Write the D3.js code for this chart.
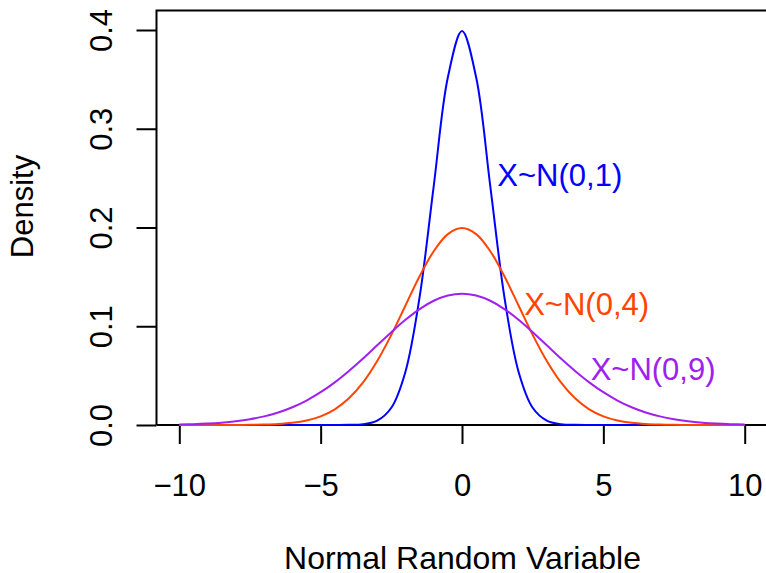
<!DOCTYPE html>
<html><head><meta charset="utf-8">
<script src="https://cdn.jsdelivr.net/npm/d3@7/dist/d3.min.js"></script>
<style>body{margin:0;background:#fff}svg{display:block}text{font-family:"Liberation Sans",Arial,Helvetica,sans-serif;}</style>
</head><body><svg id="c" width="766" height="573"></svg>
<script>
const xValues = [-10,-9.5,-9,-8.5,-8,-7.5,-7,-6.5,-6,-5.5,-5,-4.5,-4,-3.5,-3,-2.5,-2,-1.5,-1,-0.5,0,0.5,1,1.5,2,2.5,3,3.5,4,4.5,5,5.5,6,6.5,7,7.5,8,8.5,9,9.5,10];
const densN01 = [0,0,0,0,0,0,0,0,0,0,0.0000015,0.000016,0.000134,0.000873,0.00443,0.0175,0.0540,0.1295,0.2420,0.3521,0.3989,0.3521,0.2420,0.1295,0.0540,0.0175,0.00443,0.000873,0.000134,0.000016,0.0000015,0,0,0,0,0,0,0,0,0,0];
const densN04 = [0.000001,0.000003,0.000008,0.000024,0.0000669,0.000176,0.000436,0.00101,0.00222,0.00455,0.00876,0.0159,0.0270,0.0431,0.0648,0.0913,0.1210,0.1506,0.1760,0.1933,0.1995,0.1933,0.1760,0.1506,0.1210,0.0913,0.0648,0.0431,0.0270,0.0159,0.00876,0.00455,0.00222,0.00101,0.000436,0.000176,0.0000669,0.000024,0.000008,0.000003,0.000001];
const densN09 = [0.000514,0.000884,0.00148,0.00240,0.00380,0.00584,0.00874,0.0127,0.0180,0.0248,0.0332,0.0432,0.0547,0.0673,0.0807,0.0940,0.1065,0.1174,0.1258,0.1311,0.1330,0.1311,0.1258,0.1174,0.1065,0.0940,0.0807,0.0673,0.0547,0.0432,0.0332,0.0248,0.0180,0.0127,0.00874,0.00584,0.00380,0.00240,0.00148,0.000884,0.000514];
const seriesNames = ["X~N(0,1)","X~N(0,4)","X~N(0,9)"];
const seriesColors = ["#0000FF","#FF4500","#A020F0"];
const labelAnchors = [[1.25,0.242],[2.2,0.1114],[4.55,0.0456]];
const xTicks = [-10,-5,0,5,10];
const yTicks = [0.0,0.1,0.2,0.3,0.4];
const yTickLabels = ["0.0","0.1","0.2","0.3","0.4"];
const xLabel = "Normal Random Variable";
const yLabel = "Density";

const svg = d3.select("#c");
const x = d3.scaleLinear().domain([-10,10]).range([179.3,744.7]);
const y = d3.scaleLinear().domain([0,0.4]).range([425,30]);
const frameLeft = 156.5, frameTop = 10.5, frameRight = 767;
const FS = 31;

// frame lines (left + top)
svg.append("path").attr("d",`M${frameLeft},${y(0)}V${frameTop}H${frameRight}`)
  .attr("fill","none").attr("stroke","#000").attr("stroke-width",2);

// x axis
const xa = svg.append("g").attr("transform",`translate(0,${y(0)})`)
  .call(d3.axisBottom(x).tickValues(xTicks).tickSize(19).tickPadding(30)
    .tickFormat(d=>d<0?"\u2212"+Math.abs(d):String(d)));
xa.select(".domain").attr("d",`M${frameLeft},0H${frameRight}`).attr("stroke-width",2);
xa.selectAll(".tick line").attr("stroke-width",2);
xa.selectAll(".tick text").attr("font-size",FS).attr("fill","#000")
  .attr("font-family",'"Liberation Sans",Arial,sans-serif');

// y axis
const ya = svg.append("g").attr("transform",`translate(${frameLeft},0)`)
  .call(d3.axisLeft(y).tickValues(yTicks).tickSize(20)
    .tickFormat((d,i)=>yTickLabels[i]));
ya.select(".domain").remove();
ya.selectAll(".tick line").attr("stroke-width",2);
ya.selectAll(".tick text").attr("font-size",FS).attr("fill","#000")
  .attr("font-family",'"Liberation Sans",Arial,sans-serif')
  .attr("text-anchor","middle").attr("dy",0).attr("x",0)
  .attr("transform","translate(-44.5,0) rotate(-90)");

// curves
const allSeries = [densN01,densN04,densN09];
const line = d3.line().x((d,i)=>x(xValues[i])).y(d=>y(d)).curve(d3.curveCatmullRom.alpha(0.5));
allSeries.forEach((s,k)=>{
  svg.append("path").datum(s).attr("d",line).attr("fill","none")
    .attr("stroke",seriesColors[k]).attr("stroke-width",2);
});

// labels
seriesNames.forEach((n,k)=>{
  svg.append("text").attr("x",x(labelAnchors[k][0])).attr("y",y(labelAnchors[k][1]))
    .attr("font-size",FS).attr("fill",seriesColors[k]).text(n);
});

// axis titles
svg.append("text").attr("x",462.5).attr("y",568.5).attr("text-anchor","middle")
  .attr("font-size",32).attr("fill","#000").text(xLabel);
svg.append("text").attr("transform","translate(33,206.5) rotate(-90)").attr("text-anchor","middle")
  .attr("font-size",FS).attr("fill","#000").text(yLabel);
</script></body></html>
